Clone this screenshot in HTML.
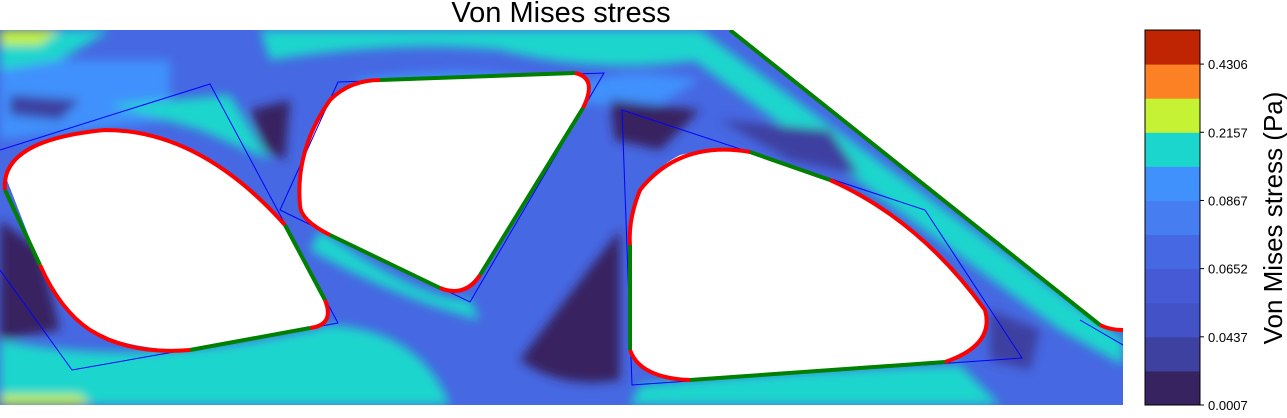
<!DOCTYPE html>
<html><head><meta charset="utf-8"><style>
body{margin:0;background:#fff;width:1287px;height:413px;overflow:hidden;font-family:"Liberation Sans","DejaVu Sans",sans-serif}
</style></head><body>
<svg width="1287" height="413">
<defs>
<clipPath id="pc"><rect x="0" y="30" width="1123" height="375"/></clipPath>
<filter id="bl" x="-20%" y="-20%" width="140%" height="140%"><feGaussianBlur stdDeviation="5"/></filter>
</defs>
<text x="561" y="22" text-anchor="middle" font-size="29">Von Mises stress</text>
<g clip-path="url(#pc)">
<rect x="0" y="30" width="1123" height="375" fill="#4668e2"/>
<g filter="url(#bl)">
<path d="M0,30 H700 L700,60 Q600,75 500,50 Q400,40 270,60 L260,30 Z" fill="#1bd6cd"/>
<path d="M0,340 Q150,370 330,325 Q420,330 450,405 L0,405 Z" fill="#1bd6cd"/>
<path d="M700,30 L1123,340 L1123,365 L1060,330 L680,50 Z" fill="#1bd6cd"/>
<path d="M640,385 Q800,370 960,365 L1000,405 L630,405Z" fill="#1bd6cd"/>
<path d="M0,60 L170,60 L170,120 L0,140 Z" fill="#4191fd"/>
<path d="M0,30 L110,30 L60,60 L0,70Z" fill="#1bd6cd"/>
<path d="M110,105 L230,95 L270,160 L200,130Z" fill="#1bd6cd"/>
<path d="M320,230 Q420,300 470,300 L480,320 Q400,300 310,250Z" fill="#1bd6cd"/>
<path d="M560,100 Q600,60 700,80 L650,110Z" fill="#4191fd"/>
<path d="M0,220 L40,250 L60,330 L0,340Z" fill="#372360"/>
<path d="M520,360 Q580,280 620,230 L620,380 Q560,390 520,360Z" fill="#372360"/>
<path d="M610,100 L700,110 L660,150 L615,140Z" fill="#372360"/>
<path d="M250,110 L290,100 L285,160 L265,150Z" fill="#372360"/>
<path d="M720,120 L830,130 L860,175 L790,160Z" fill="#3e41a0"/>
<path d="M990,310 L1040,330 L1030,370 L990,360Z" fill="#3e41a0"/>
<path d="M10,95 L80,100 L60,120 L10,115Z" fill="#3e41a0"/>
<path d="M350,80 Q500,60 560,90 L480,110 Q400,100 350,80Z" fill="#4191fd"/>
<path d="M0,395 L80,395 L90,405 L0,405Z" fill="#c5f233"/>
<path d="M0,30 L60,30 L40,45 L0,45Z" fill="#c5f233"/>
</g>
<path d="M730,30 L1123,30 L1123,330 L1100,325 Z" fill="#fff"/>
<path d="M5,175 Q30,135 105,130 Q200,130 285,225 L325,300 Q335,325 310,328 L190,350 Q130,350 90,330 Q60,310 40,265 Z" fill="#fff"/>
<path d="M300,205 Q295,150 330,100 Q350,80 380,80 L575,73 Q598,78 583,108 L480,275 Q465,298 440,288 L330,235 Q300,220 300,205Z" fill="#fff"/>
<path d="M630,245 Q630,180 680,155 Q720,145 760,155 L830,180 Q920,220 985,310 Q995,345 945,362 L690,380 Q640,375 630,350 Z" fill="#fff"/>
<g fill="none" stroke="#00f" stroke-width="1">
<path d="M0,150 L210,84 L338,323 L72,370 L0,270"/>
<path d="M338,82 L604,73 L470,302 L280,210 Z"/>
<path d="M622,110 L925,210 L1022,358 L632,385 Z"/>
<path d="M1080,320 L1123,345"/>
</g>
<g fill="none" stroke-width="4">
<path d="M730,30 L1100,325" stroke="#008000"/>
<path d="M1100,325 Q1110,330 1123,330" stroke="red"/>
<path d="M40,265 L5,190" stroke="#008000"/>
<path d="M5,190 Q0,140 105,130 Q200,130 285,225" stroke="red"/>
<path d="M285,225 L325,300" stroke="#008000"/>
<path d="M325,300 Q335,325 310,328" stroke="red"/>
<path d="M310,328 L190,350" stroke="#008000"/>
<path d="M190,350 Q130,355 90,330 Q60,310 40,265" stroke="red"/>
<path d="M300,205 Q295,150 330,100 Q350,80 380,80" stroke="red"/>
<path d="M380,80 L575,73" stroke="#008000"/>
<path d="M575,73 Q598,78 583,108" stroke="red"/>
<path d="M583,108 L480,275" stroke="#008000"/>
<path d="M480,275 Q465,298 440,288" stroke="red"/>
<path d="M440,288 L330,235" stroke="#008000"/>
<path d="M330,235 Q300,220 300,205" stroke="red"/>
<path d="M630,245 L630,350" stroke="#008000"/>
<path d="M630,350 Q640,378 690,380" stroke="red"/>
<path d="M690,380 L945,362" stroke="#008000"/>
<path d="M945,362 Q995,345 985,310 Q920,220 830,180" stroke="red"/>
<path d="M830,180 L750,152" stroke="#008000"/>
<path d="M750,152 Q680,140 640,190 Q628,220 630,245" stroke="red"/>
</g>
</g>
<g id="cbar"></g>
<text transform="translate(1282,218) rotate(-90)" text-anchor="middle" font-size="26">Von Mises stress (Pa)</text>
</svg>
<script>
const bandColors=["#372360","#3e41a0","#4452c8","#455ad4","#4668e2","#467df0","#4191fd","#1bd6cd","#c5f233","#fc8125","#c02503"];
const tickLabels=["0.0007","0.0437","0.0652","0.0867","0.2157","0.4306"];
const tickBands=[0,2,4,6,8,10];
(function(){
const g=document.getElementById('cbar');
const ns='http://www.w3.org/2000/svg';
const yTop=30,yBot=405,x0=1145,w=55;
const bh=(yBot-yTop)/bandColors.length;
bandColors.forEach((c,i)=>{
 const r=document.createElementNS(ns,'rect');
 r.setAttribute('x',x0);r.setAttribute('y',yBot-(i+1)*bh);r.setAttribute('width',w);r.setAttribute('height',bh+0.5);r.setAttribute('fill',c);
 
 
 g.appendChild(r);
});
const fr=document.createElementNS(ns,'rect');
fr.setAttribute('x',x0);fr.setAttribute('y',yTop);fr.setAttribute('width',w);fr.setAttribute('height',yBot-yTop);fr.setAttribute('fill','none');fr.setAttribute('stroke','#000');


g.appendChild(fr);
tickLabels.forEach((t,i)=>{
 const y=yBot-tickBands[i]*bh;
 const l=document.createElementNS(ns,'line');
 l.setAttribute('x1',x0+w);l.setAttribute('x2',x0+w+4);l.setAttribute('y1',y);l.setAttribute('y2',y);l.setAttribute('stroke','#000');
 
 
 g.appendChild(l);
 const tx=document.createElementNS(ns,'text');
 tx.setAttribute('x',x0+w+8);tx.setAttribute('y',y+5);tx.setAttribute('font-size','13');tx.textContent=t;
 
 
 g.appendChild(tx);
});
})();
</script>
</body></html>
